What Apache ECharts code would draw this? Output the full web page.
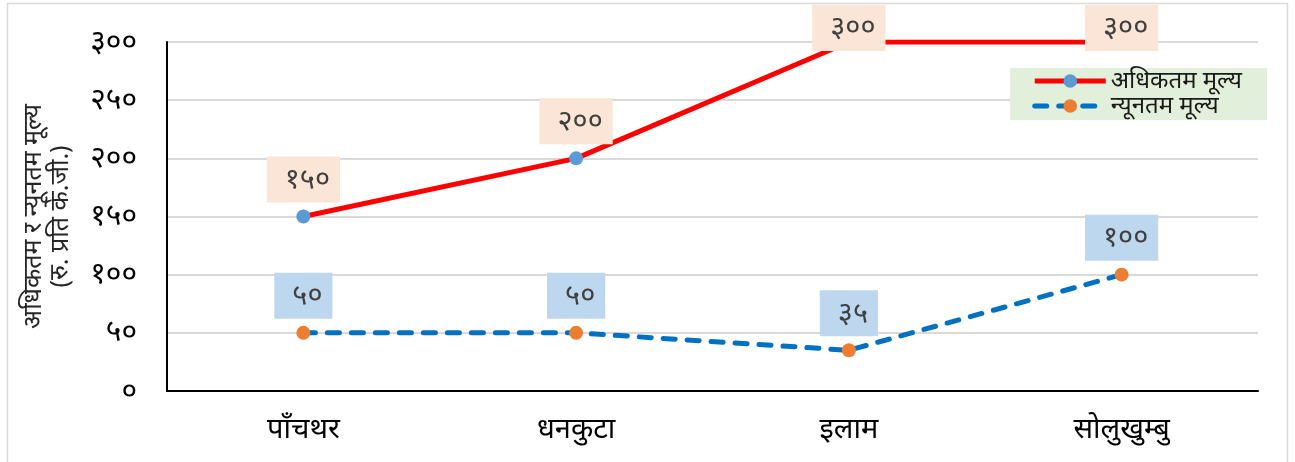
<!DOCTYPE html>
<html>
<head>
<meta charset="utf-8">
<script src="https://cdn.jsdelivr.net/npm/echarts@6/dist/echarts.min.js"></script>
<style>
  html, body { margin: 0; padding: 0; background: #fff; }
  #chart { width: 1295px; height: 462px; }
</style>
</head>
<body>
<div id="chart"></div>
<script>
  // जिल्लाहरू
  const categories = ['पाँचथर', 'धनकुटा', 'इलाम', 'सोलुखुम्बु']
  // अधिकतम मूल्य (रु. प्रति के.जी.)
  const maxPrice = [150, 200, 300, 300]
  // न्यूनतम मूल्य
  const minPrice = [50, 50, 35, 100]
  const yTickLabels = ['०', '५०', '१००', '१५०', '२००', '२५०', '३००']
  const seriesNames = ['अधिकतम मूल्य', 'न्यूनतम मूल्य']

  const devDigits = ['०', '१', '२', '३', '४', '५', '६', '७', '८', '९']
  function toDev(n) {
    return String(n).split('').map(c => devDigits[+c] !== undefined ? devDigits[+c] : c).join('')
  }

  const font = "'Noto Sans', 'DejaVu Sans', sans-serif"

  let chart = echarts.init(document.getElementById('chart'))

  // labels at the top edge are pushed down inside the chart
  let maxData = maxPrice.map(v => v >= 300
    ? {value: v, label: {offset: [0, 23]}}
    : v)

  let labelBase = {
    show: true,
    position: 'top',
    distance: 7,
    color: '#404040',
    fontSize: 29,
    lineHeight: 30,
    fontFamily: font,
    padding: [8, 10, 8, 18],
    formatter: p => toDev(p.value)
  }

  let option = {
    animation: false,
    textStyle: {fontFamily: font},
    graphic: [{
      type: 'rect',
      shape: {x: 7.5, y: 3.5, width: 1280, height: 470},
      style: {fill: 'none', stroke: '#d9d9d9', lineWidth: 1.5},
      silent: true,
      z: -1
    }],
    grid: {left: 167, right: 37, top: 42, bottom: 71},
    legend: {
      right: 28,
      top: 68,
      orient: 'vertical',
      backgroundColor: '#e2efda',
      padding: [1, 25, 2, 22],
      itemWidth: 71,
      itemHeight: 17,
      itemGap: 1,
      lineStyle: {width: 5},
      textStyle: {fontSize: 24, color: '#1a1a1a', fontFamily: font},
      data: seriesNames
    },
    xAxis: {
      type: 'category',
      data: categories,
      axisLine: {lineStyle: {color: '#000', width: 2}},
      axisTick: {show: false},
      axisLabel: {fontSize: 29, color: '#000', margin: 24, fontFamily: font}
    },
    yAxis: {
      type: 'value',
      min: 0,
      max: 300,
      interval: 50,
      name: 'अधिकतम र न्यूनतम मूल्य\n(रु. प्रति के.जी.)',
      nameLocation: 'middle',
      nameGap: 93,
      nameTextStyle: {fontSize: 25, color: '#262626', lineHeight: 27, fontFamily: font},
      axisLine: {show: true, lineStyle: {color: '#000', width: 2}},
      axisTick: {show: false},
      axisLabel: {
        fontSize: 30, color: '#000', margin: 30, fontFamily: font,
        formatter: v => yTickLabels[v / 50]
      },
      splitLine: {lineStyle: {color: '#d9d9d9', width: 2}}
    },
    series: [
      {
        name: seriesNames[0],
        type: 'line',
        data: maxData,
        symbol: 'circle',
        symbolSize: 14,
        itemStyle: {color: '#5b9bd5'},
        lineStyle: {color: '#ff0000', width: 5},
        label: Object.assign({}, labelBase, {backgroundColor: '#fbe5d6'}),
        z: 3
      },
      {
        name: seriesNames[1],
        type: 'line',
        data: minPrice,
        symbol: 'circle',
        symbolSize: 14,
        itemStyle: {color: '#ed7d31'},
        lineStyle: {color: '#0070c0', width: 5, type: [12, 12], cap: 'round'},
        label: Object.assign({}, labelBase, {backgroundColor: '#bdd7ee'}),
        z: 2
      }
    ]
  }

  chart.setOption(option)
</script>
</body>
</html>
